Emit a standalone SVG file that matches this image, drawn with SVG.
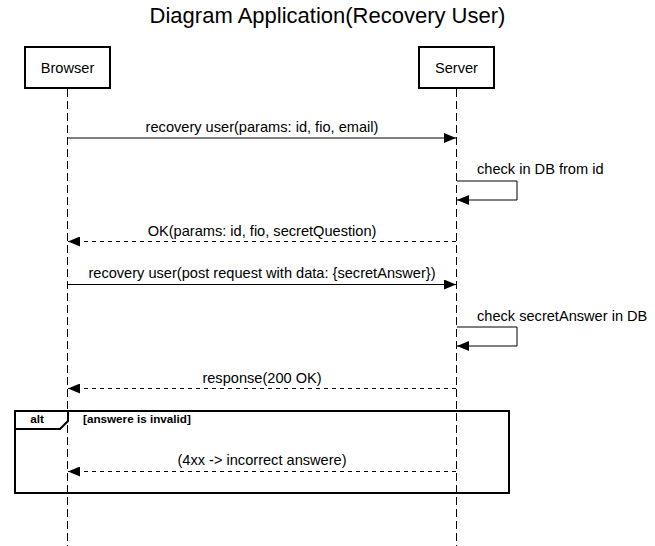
<svg xmlns="http://www.w3.org/2000/svg" width="655" height="546" viewBox="0 0 655 546">
<style>
text{font-family:"Liberation Sans",Arial,sans-serif;fill:#000}
.box{fill:#fff;stroke:#000;stroke-width:2}
.life{stroke:#000;stroke-width:1;stroke-dasharray:8 4;fill:none}
.msg{stroke:#000;stroke-width:1;fill:none;marker-end:url(#arr)}
.ret{stroke:#000;stroke-width:1;fill:none;stroke-dasharray:4 4;marker-end:url(#arr)}
.lbl{font-size:14.6px;text-anchor:middle}
.slbl{font-size:14.6px}
.frame{fill:none;stroke:#000;stroke-width:2}
</style>
<defs>
<marker id="arr" viewBox="0 0 12 10" refX="12" refY="5" markerWidth="12" markerHeight="10" markerUnits="userSpaceOnUse" orient="auto">
<path d="M0,0 L12,5 L0,10 Z" fill="#000"/>
</marker>
</defs>
<text x="327.5" y="23" font-size="22" text-anchor="middle">Diagram Application(Recovery User)</text>
<g id="browser">
<line class="life" x1="67.5" y1="89" x2="67.5" y2="546"/>
<rect class="box" x="25" y="47" width="85" height="41"/>
<text x="67.5" y="73" font-size="14.6" text-anchor="middle">Browser</text>
</g>
<g id="server">
<line class="life" x1="456.5" y1="89" x2="456.5" y2="546"/>
<rect class="box" x="419" y="47" width="75" height="41"/>
<text x="456.5" y="73" font-size="14.6" text-anchor="middle">Server</text>
</g>
<g id="alt">
<rect class="frame" x="15" y="411" width="494" height="82"/>
<path class="frame" d="M15,429 L60,429 L68,421 L68,411" stroke-width="1.5"/>
<text x="37" y="423" font-size="11.7" font-weight="bold" text-anchor="middle">alt</text>
<text x="83" y="423" font-size="11.7" font-weight="bold">[answere is invalid]</text>
</g>
<g id="connectors">
<line class="msg" x1="68" y1="138" x2="456" y2="138"/>
<text class="lbl" x="262" y="132">recovery user(params: id, fio, email)</text>
<path class="msg" d="M457,181 L517,181 L517,200 L457,200"/>
<text class="slbl" x="477" y="174">check in DB from id</text>
<line class="ret" x1="456" y1="241.5" x2="68" y2="241.5"/>
<text class="lbl" x="262" y="236">OK(params: id, fio, secretQuestion)</text>
<line class="msg" x1="68" y1="284.5" x2="456" y2="284.5"/>
<text class="lbl" x="262" y="278">recovery user(post request with data: {secretAnswer})</text>
<path class="msg" d="M457,327 L517,327 L517,346 L457,346"/>
<text class="slbl" x="477" y="321">check secretAnswer in DB</text>
<line class="ret" x1="456" y1="388.5" x2="68" y2="388.5"/>
<text class="lbl" x="262" y="383">response(200 OK)</text>
<line class="ret" x1="456" y1="471.5" x2="68" y2="471.5"/>
<text class="lbl" x="262" y="465">(4xx -&gt; incorrect answere)</text>
</g>
</svg>
